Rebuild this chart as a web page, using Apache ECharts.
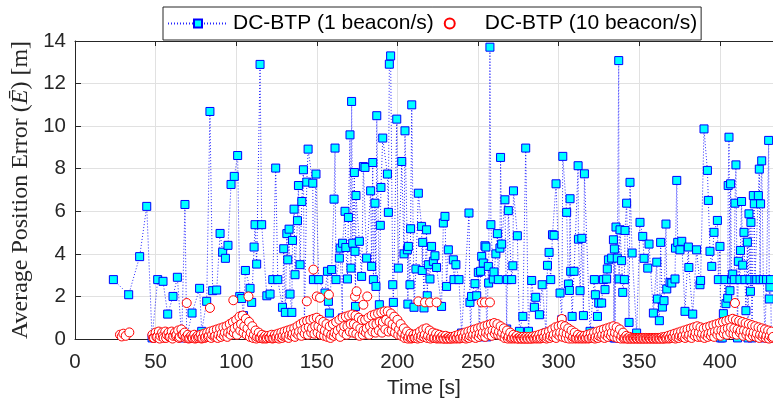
<!DOCTYPE html>
<html><head><meta charset="utf-8">
<script src="https://cdn.jsdelivr.net/npm/echarts@6/dist/echarts.min.js"></script>
<style>html,body{margin:0;padding:0;background:#fff}#c{width:773px;height:398px}</style>
</head><body><div id="c"></div>
<script>
// ---- data ----
const seriesNames = ['DC-BTP (1 beacon/s)', 'DC-BTP (10 beacon/s)'];
const xAxisTitle = 'Time [s]';
const xRange = [0, 433, 50];   // min, max, tick step
const yRange = [0, 14, 2];

// 1 beacon/s : [time s, error m]
const beacon1 = [
[23.8,2.79],[33.3,2.08],[40.1,3.87],[44.5,6.23],[47.8,0.05],[51.3,2.79],[54.6,2.71],[57.5,1.17],[60.8,2.0],[63.5,2.9],
[66.2,0.05],[68.2,6.32],[69.3,0.1],[72.6,1.22],[77.3,2.38],[78.6,0.36],[81.7,1.77],[83.7,10.69],[85.4,2.27],[87.9,2.3],
[90,4.96],[91.6,4.08],[93.3,3.79],[94.9,4.4],[96.8,7.26],[98.8,7.64],[100.9,8.62],[102.2,2.0],[103.4,1.9],[104.5,1.1],
[105.7,3.22],[108.6,2.38],[109.6,1.72],[111.1,4.32],[111.7,5.37],[112.7,3.52],[114.8,12.9],[115.8,5.37],[119,2.03],[121,2.11],
[122.7,2.79],[124.5,8.03],[125.8,2.79],[128.7,1.49],[129.5,4.24],[130.5,1.25],[131.4,4.95],[132,3.72],[132.8,5.16],[133.4,2.11],
[134.5,1.25],[134.9,4.63],[135.9,6.1],[136.5,3.02],[138,5.56],[138.6,7.21],[139.6,3.49],[140.7,6.46],[141.7,7.95],[142.3,0.6],
[143.8,7.37],[144.6,8.92],[147.5,7.32],[147.9,2.79],[149.5,7.75],[151.2,2.79],[155.1,2.16],[156.6,3.18],[157.2,1.77],[157.8,1.22],
[159.2,3.26],[160.7,6.57],[161.3,8.97],[161.9,2.79],[164,3.8],[164.5,4.27],[165.9,0.99],[166,4.5],[167.5,6.0],[168,4.3],
[169,2.82],[169.6,5.71],[170.6,9.59],[171.2,3.33],[171.6,11.16],[172.3,4.5],[173.3,7.82],[173.7,4.12],[174,1.53],[174.3,6.74],
[176.4,4.59],[177.8,2.94],[178.9,8.1],[179.9,8.06],[180.9,3.8],[183.4,6.96],[184,3.41],[184.7,8.29],[185.1,2.79],[186.1,6.38],
[186.7,2.47],[187.2,10.49],[188.8,1.61],[189.4,5.34],[189.8,7.12],[190.9,9.44],[193.8,7.75],[194.4,5.95],[195,12.91],[195.8,13.3],
[197.1,2.55],[197.5,1.72],[199.6,10.33],[200.6,3.33],[202.7,8.34],[204.1,4.0],[204.7,9.78],[206.2,4.19],[206.5,1.64],[206.8,4.35],
[207.8,2.55],[208.2,5.18],[208.9,11.0],[210.3,1.49],[211.5,3.29],[213,6.85],[215,5.29],[215.4,3.22],[215.7,4.54],[216.5,1.46],
[218.1,5.13],[218.5,2.03],[219.2,3.49],[220.2,2.82],[221.2,4.35],[222.3,3.65],[223.3,3.91],[224.3,3.36],[227.4,1.53],[228.5,5.45],
[229.5,5.76],[230.5,2.47],[231.6,4.19],[234.7,3.72],[235.1,2.79],[236.3,3.49],[238.2,2.79],[239.8,0.28],[244.4,5.92],[245,1.72],
[245.5,0.1],[246,2.0],[248.1,2.6],[249.2,2.03],[250.2,3.13],[251,0.1],[251.6,3.18],[252.3,3.88],[253.3,3.57],[254.3,4.38],
[254.9,4.32],[255.5,0.1],[256.4,3.41],[256.6,2.63],[257.4,13.71],[258,5.37],[259.5,2.82],[259.9,3.15],[261.1,4.0],[262,4.95],
[262.6,2.79],[263.6,4.27],[264,8.53],[264.7,4.46],[266.7,6.54],[267.8,0.47],[268.2,2.79],[268.8,6.03],[270.9,2.79],[271.6,3.44],
[272,6.96],[274.4,4.85],[275.7,0.36],[277.8,1.06],[279.6,8.97],[281.3,0.36],[283.3,2.75],[285,1.49],[285.8,1.96],[288.1,1.14],
[289.8,2.55],[292.2,0.28],[293.1,3.46],[294.1,4.07],[295.1,2.79],[296.2,4.9],[297.2,4.87],[298.4,7.29],[300.9,2.16],[302,0.91],
[302.6,8.58],[305,5.95],[306.1,2.58],[306.7,2.28],[307.1,6.59],[307.5,3.18],[308.4,1.06],[309.6,3.18],[312.1,8.14],[312.3,4.69],
[313.3,2.27],[314.4,4.73],[315.4,1.1],[316,7.76],[319.5,0.36],[322.2,2.79],[322.8,2.08],[324.1,1.06],[324.9,1.69],[326.7,1.69],
[327.8,2.79],[328.8,2.32],[329.8,2.82],[330.2,3.29],[330.9,3.72],[332.9,3.8],[334,4.66],[334.3,0.05],[334.6,4.23],[335,0.05],
[335.6,5.26],[336.4,3.8],[337.3,13.08],[337.5,2.82],[338.1,5.13],[339.1,3.68],[339.8,2.19],[340.8,2.79],[341.2,5.1],[342.2,6.38],
[343.7,0.78],[344.3,7.36],[345.6,4.04],[348.4,0.28],[350.5,5.48],[352.2,4.82],[353,3.79],[355.3,3.33],[356.1,4.46],[358.8,1.22],
[360.9,3.61],[361.3,1.88],[362.5,0.86],[363.3,4.54],[364.4,1.5],[365.4,1.8],[366.6,5.4],[367.1,2.35],[369.1,2.66],[370.2,2.63],
[372.2,2.82],[372.5,4.27],[373.3,7.45],[373.9,4.54],[375.3,4.19],[376.4,4.59],[378.4,1.3],[380.5,4.32],[380.8,3.36],[383.2,1.17],
[385.6,4.19],[387.7,2.55],[388.1,2.75],[390.2,9.87],[392.3,7.92],[392.9,6.51],[393.9,4.12],[395,3.41],[396.4,5.01],[398.5,5.57],
[399.1,2.79],[400.1,4.35],[400.5,0.05],[401.5,0.05],[402.2,1.19],[403.2,2.79],[403.8,1.66],[404.9,1.92],[405.2,7.21],[405.7,9.48],
[406.3,2.27],[406.7,7.29],[407.3,2.79],[408,3.05],[409,2.79],[409.4,6.38],[410,8.18],[411,0.05],[411.5,3.65],[412.5,2.79],
[412.8,4.16],[413.5,6.46],[414.2,3.47],[415,5.01],[415.6,2.79],[416.2,1.33],[417.1,4.55],[417.5,0.05],[418.1,5.88],[418.7,2.79],
[419,2.24],[419.3,5.48],[420,0.05],[420.8,6.74],[421.4,6.35],[421.8,2.79],[422.9,2.79],[423.9,6.74],[424.5,7.98],[425,2.79],
[425.3,6.35],[426,8.37],[427,2.79],[428,0.05],[429,2.79],[430.3,9.33],[430.7,1.88],[431.1,2.44],[431.5,2.79],[432,0.05]
];

// 10 beacon/s : dense band, one value per second starting at t = 48
const beacon10Start = 48;
const beacon10Band = [
0.2,0.05,0.3,0.1,0.35,0.15,0.3,0.05,0.35,0.2,
0.3,0.1,0.35,0.15,0.3,0.2,0.4,0.1,0.45,0.2,
0.3,0.1,0.2,0.05,0.15,0.05,0.2,0.05,0.15,0.1,
0.2,0.05,0.25,0.1,0.3,0.15,0.35,0.2,0.4,0.15,
0.45,0.2,0.5,0.25,0.55,0.3,0.6,0.3,0.7,0.4,
0.8,0.5,0.9,0.6,1.05,0.7,1.1,0.6,0.95,0.5,
0.8,0.3,0.6,0.2,0.4,0.1,0.3,0.05,0.2,0.05,
0.15,0.05,0.15,0.05,0.2,0.05,0.2,0.1,0.25,0.1,
0.3,0.15,0.35,0.15,0.4,0.2,0.45,0.25,0.5,0.3,
0.6,0.35,0.7,0.4,0.8,0.5,0.85,0.55,0.9,0.5,
0.95,0.6,1.0,0.6,0.9,0.5,0.8,0.4,0.7,0.3,
0.6,0.2,0.7,0.3,0.8,0.4,0.9,0.5,1.0,0.6,
1.05,0.6,1.1,0.7,1.15,0.7,1.1,0.6,1.0,0.5,
0.9,0.4,0.9,0.5,1.0,0.6,1.1,0.7,1.15,0.7,
1.2,0.8,1.25,0.8,1.3,0.9,1.3,0.8,1.2,0.7,
1.05,0.6,0.9,0.45,0.7,0.3,0.5,0.2,0.35,0.1,
0.25,0.05,0.2,0.05,0.25,0.1,0.35,0.15,0.45,0.2,
0.5,0.15,0.4,0.1,0.3,0.05,0.25,0.05,0.2,0.05,
0.15,0.02,0.15,0.02,0.1,0.02,0.1,0.05,0.15,0.05,
0.2,0.05,0.25,0.1,0.3,0.1,0.35,0.15,0.4,0.2,
0.45,0.2,0.5,0.25,0.55,0.3,0.6,0.3,0.65,0.35,
0.7,0.4,0.75,0.4,0.7,0.35,0.6,0.3,0.5,0.2,
0.4,0.1,0.3,0.05,0.2,0.05,0.15,0.02,0.1,0.02,
0.1,0.02,0.1,0.02,0.1,0.02,0.12,0.05,0.15,0.05,
0.2,0.05,0.25,0.1,0.3,0.1,0.35,0.15,0.45,0.2,
0.55,0.25,0.6,0.3,0.65,0.3,0.6,0.25,0.5,0.2,
0.4,0.1,0.3,0.05,0.2,0.05,0.15,0.05,0.15,0.05,
0.2,0.05,0.25,0.1,0.3,0.1,0.35,0.15,0.4,0.2,
0.45,0.2,0.5,0.25,0.55,0.3,0.6,0.3,0.55,0.25,
0.45,0.15,0.3,0.05,0.15,0.02,0.1,0.02,0.05,0.02,
0.05,0.02,0.05,0.02,0.05,0.02,0.05,0.02,0.05,0.02,
0.05,0.02,0.05,0.02,0.05,0.02,0.08,0.02,0.1,0.05,
0.15,0.05,0.2,0.1,0.25,0.1,0.3,0.15,0.35,0.15,
0.4,0.2,0.45,0.2,0.5,0.25,0.55,0.3,0.6,0.3,
0.55,0.25,0.5,0.2,0.55,0.25,0.6,0.3,0.65,0.35,
0.7,0.4,0.75,0.4,0.8,0.45,0.85,0.5,0.9,0.55,
0.95,0.5,0.9,0.45,0.85,0.4,0.8,0.4,0.75,0.35,
0.7,0.3,0.65,0.3,0.6,0.25,0.55,0.2,0.5,0.2,
0.45,0.15,0.4,0.15,0.35,0.1
];
// 10 beacon/s : lower layer of the band, one value every 2 s starting at t = 48.5
const beacon10LowStart = 48.5;
const beacon10Low = [
0.05,0.1,0.02,0.15,0.05,0.1,0.02,0.15,0.05,0.2,
0.05,0.02,0.05,0.02,0.05,0.02,0.05,0.1,0.05,0.1,
0.05,0.1,0.15,0.1,0.2,0.3,0.2,0.4,0.3,0.2,
0.1,0.05,0.02,0.05,0.02,0.02,0.05,0.02,0.05,0.02,
0.05,0.1,0.05,0.15,0.1,0.2,0.15,0.25,0.2,0.3,
0.25,0.3,0.2,0.15,0.1,0.05,0.15,0.2,0.1,0.3,
0.2,0.35,0.3,0.25,0.15,0.2,0.3,0.2,0.35,0.3,
0.4,0.3,0.45,0.35,0.4,0.3,0.2,0.15,0.05,0.02,
0.02,0.05,0.02,0.05,0.1,0.05,0.02,0.05,0.02,0.02,
0.02,0.02,0.02,0.02,0.02,0.02,0.05,0.02,0.05,0.1,
0.05,0.1,0.15,0.1,0.2,0.15,0.25,0.2,0.15,0.05,
0.02,0.02,0.02,0.02,0.02,0.02,0.02,0.02,0.02,0.02,
0.02,0.05,0.02,0.05,0.1,0.05,0.15,0.1,0.05,0.02,
0.02,0.02,0.02,0.02,0.02,0.02,0.05,0.02,0.05,0.1,
0.05,0.1,0.15,0.1,0.05,0.02,0.02,0.02,0.02,0.02,
0.02,0.02,0.02,0.02,0.02,0.02,0.02,0.02,0.02,0.02,
0.02,0.05,0.02,0.05,0.1,0.05,0.1,0.05,0.15,0.1,
0.1,0.05,0.1,0.15,0.1,0.2,0.15,0.25,0.2,0.3,
0.25,0.2,0.3,0.15,0.2,0.1,0.15,0.1,0.05,0.1,
0.05,0.02,0.05
];
// 10 beacon/s : isolated points [time s, error m]
const beacon10Extra = [
[27.9,0.2],[29,0.12],[30,0.25],[31.5,0.15],[33.7,0.31],[69.3,1.69],[83.7,1.46],[98.2,1.82],[107.6,2.0],
[143.8,1.77],[147.9,3.26],[150,2.0],[152,1.94],[157.5,2.08],[173.7,2.0],[174.7,2.24],[178.9,1.61],[181.3,2.0],
[190.9,0.63],[213,1.77],[217.1,1.72],[220.2,1.72],[224.3,1.72],[252.3,1.72],[254.3,1.72],[257.4,1.72],
[302,0.94],[409.4,1.69]
];

// ---- build ----
const blueData = beacon1.slice().sort((a, b) => a[0] - b[0]);
const redData = beacon10Extra
  .concat(beacon10Band.map((v, i) => [beacon10Start + i, v]))
  .concat(beacon10Low.map((v, i) => [beacon10LowStart + 2 * i, v]))
  .sort((a, b) => a[0] - b[0]);

const sans = "'Liberation Sans', Arial, Helvetica, sans-serif";
const serif = "'Liberation Serif', 'Times New Roman', serif";
const ink = '#262626';

const chart = echarts.init(document.getElementById('c'), null, { renderer: 'canvas' });
chart.setOption({
  animation: false,
  backgroundColor: '#fff',
  grid: { left: 75, right: 0, top: 41, bottom: 59, containLabel: false, outerBoundsMode: 'none' },
  legend: {
    left: 163, top: 7,
    padding: [6, 4, 6, 4],
    itemWidth: 60, itemHeight: 10, itemGap: 10,
    borderColor: ink, borderWidth: 1, backgroundColor: '#fff',
    textStyle: { fontFamily: sans, fontSize: 21, color: '#000' },
    data: seriesNames
  },
  xAxis: [{
    type: 'value', min: xRange[0], max: xRange[1], interval: xRange[2],
    name: xAxisTitle, nameLocation: 'middle', nameGap: 36,
    nameTextStyle: { fontFamily: sans, fontSize: 21, color: ink },
    axisLine: { lineStyle: { color: ink, width: 1 } },
    axisTick: { inside: true, length: 5, lineStyle: { color: ink } },
    axisLabel: { fontFamily: sans, fontSize: 20.5, color: ink, margin: 13, showMaxLabel: false },
    splitLine: { show: true, lineStyle: { color: '#e1e1e1', width: 1 } }
  }, {
    type: 'value', position: 'top', min: xRange[0], max: xRange[1], interval: xRange[2],
    axisLine: { lineStyle: { color: ink, width: 1 } },
    axisTick: { inside: true, length: 5, lineStyle: { color: ink } },
    axisLabel: { show: false }, splitLine: { show: false }
  }],
  yAxis: {
    type: 'value', min: yRange[0], max: yRange[1], interval: yRange[2],
    name: '{t|Average Position Error (}{e|Ē}{t|) [m]}',
    nameLocation: 'middle', nameGap: 42, nameRotate: 90,
    nameTextStyle: {
      rich: {
        t: { fontFamily: serif, fontSize: 24, color: ink },
        e: { fontFamily: serif, fontSize: 24, fontStyle: 'italic', color: ink }
      }
    },
    axisLine: { show: true, lineStyle: { color: ink, width: 1 } },
    axisTick: { show: true, inside: true, length: 6, lineStyle: { color: ink } },
    axisLabel: { fontFamily: sans, fontSize: 20.5, color: ink, margin: 9 },
    splitLine: { show: true, lineStyle: { color: '#e1e1e1', width: 1 } }
  },
  series: [{
    name: seriesNames[0], type: 'line', data: blueData,
    symbol: 'rect', symbolSize: 8, showSymbol: true,
    lineStyle: { color: '#0000ff', width: 1, type: [1, 2], opacity: 0.85 },
    itemStyle: { color: '#00ffff', borderColor: '#0000ff', borderWidth: 1 },
    z: 2
  }, {
    name: seriesNames[1], type: 'scatter', data: redData,
    symbol: 'circle', symbolSize: 9,
    itemStyle: { color: '#ffffff', borderColor: '#ff0000', borderWidth: 1, opacity: 1 },
    z: 3
  }]
});
</script>
</body></html>
